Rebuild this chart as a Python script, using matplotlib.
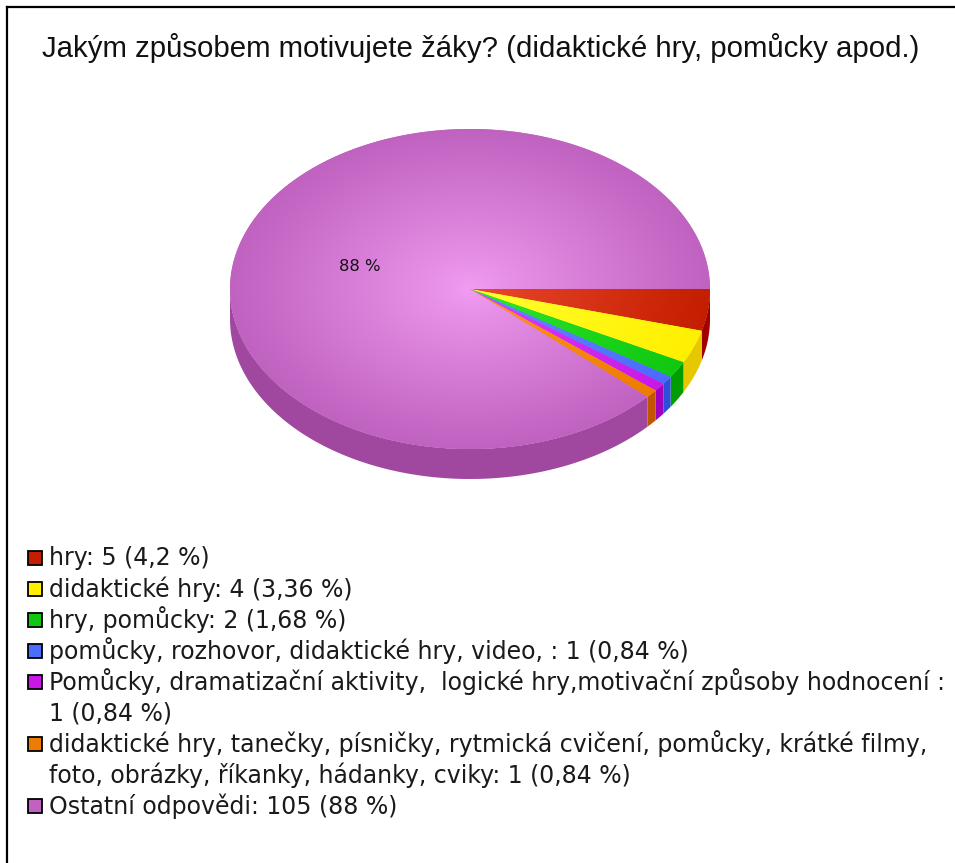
import numpy as np
import matplotlib
matplotlib.use("Agg")
import matplotlib.pyplot as plt
from matplotlib.patches import Polygon, Rectangle
from matplotlib.lines import Line2D

# ---------------- data ----------------
title = "Jakým způsobem motivujete žáky? (didaktické hry, pomůcky apod.)"
categories = [
    "hry",
    "didaktické hry",
    "hry, pomůcky",
    "pomůcky, rozhovor, didaktické hry, video, ",
    "Pomůcky, dramatizační aktivity,  logické hry,motivační způsoby hodnocení ",
    "didaktické hry, tanečky, písničky, rytmická cvičení, pomůcky, krátké filmy,\nfoto, obrázky, říkanky, hádanky, cviky",
    "Ostatní odpovědi",
]
count_sep = [" ", " ", " ", " ", "\n", " ", " "]
counts = [5, 4, 2, 1, 1, 1, 105]
pct_labels = ["4,2", "3,36", "1,68", "0,84", "0,84", "0,84", "88"]
slice_label = "88 %"

base_colors = ["#C41E00", "#FFF000", "#10C810", "#4A6CFF", "#C818E8", "#EE7C00", "#C062C0"]
light_colors = ["#EC4A2E", "#FFFF30", "#30E830", "#6A8AFF", "#E040FF", "#FF9A20", "#F29CF2"]
side_colors = ["#A00000", "#E6C800", "#009E00", "#2E50D8", "#A000BE", "#C25600", "#A048A0"]

# ---------------- figure ----------------
W, H = 955, 863
fig = plt.figure(figsize=(W / 100, H / 100), dpi=100)
ax = fig.add_axes([0, 0, 1, 1])
ax.set_xlim(0, W)
ax.set_ylim(H, 0)
ax.axis("off")

title_font = "Liberation Sans"
legend_font = "DejaVu Sans"

# frame (cropped box: left & top edges)
ax.add_line(Line2D([7, 7], [H, 7.5], color="black", lw=1.6))
ax.add_line(Line2D([7, W], [7.5, 7.5], color="black", lw=1.6))

ax.text(481, 48, title, ha="center", va="center", fontsize=21.2, family=title_font, color="#111111")

# ---------------- 3D-ish pie ----------------
cx, cy, rx, ry, depth = 470, 289, 240, 160, 30
vals = np.array(counts, dtype=float)
bounds = np.concatenate([[0], np.cumsum(vals) / vals.sum() * 2 * np.pi])

# side walls (visible half: angles 0..pi, downward in screen)
for i in range(len(vals)):
    a, b = bounds[i], bounds[i + 1]
    lo, hi = max(a, 0), min(b, np.pi)
    if hi <= lo:
        continue
    t = np.linspace(lo, hi, 200)
    xs = cx + rx * np.cos(t)
    ys = cy + ry * np.sin(t)
    poly = np.column_stack([np.concatenate([xs, xs[::-1]]),
                            np.concatenate([ys, ys[::-1] + depth])])
    ax.add_patch(Polygon(poly, closed=True, facecolor=side_colors[i], edgecolor="none"))

# top faces with radial gradient
gx = np.arange(cx - rx, cx + rx + 1)
gy = np.arange(cy - ry, cy + ry + 1)
GX, GY = np.meshgrid(gx, gy)
R = np.clip(np.sqrt(((GX - cx) / rx) ** 2 + ((GY - cy) / ry) ** 2), 0, 1)
for i in range(len(vals)):
    a, b = bounds[i], bounds[i + 1]
    t = np.linspace(a, b, max(int((b - a) * 120), 4))
    pts = np.column_stack([np.concatenate([[cx], cx + rx * np.cos(t)]),
                           np.concatenate([[cy], cy + ry * np.sin(t)])])
    wedge = Polygon(pts, closed=True, facecolor=base_colors[i], edgecolor="none")
    ax.add_patch(wedge)
    c0 = np.array(matplotlib.colors.to_rgb(light_colors[i]))
    c1 = np.array(matplotlib.colors.to_rgb(base_colors[i]))
    f = R[..., None] ** 0.9
    img = c0 * (1 - f) + c1 * f
    im = ax.imshow(img, extent=(gx[0], gx[-1], gy[-1], gy[0]), interpolation="bilinear", zorder=2)
    im.set_clip_path(wedge)

ax.text(360, 266, slice_label, ha="center", va="center", fontsize=11.8, family=legend_font,
        color="#111111", zorder=3)

# ---------------- legend ----------------
fs = 17.0
y = 558
line_h = 31
for i, cat in enumerate(categories):
    label = f"{cat}:{count_sep[i]}{counts[i]} ({pct_labels[i]} %)"
    ax.add_patch(Rectangle((28, y - 7.5), 14, 14, facecolor=base_colors[i], edgecolor="black",
                           lw=1.3, zorder=3))
    for k, ln in enumerate(label.split("\n")):
        ax.text(49, y, ln if k == 0 else ln.lstrip(), ha="left", va="center",
                fontsize=fs, family=legend_font, color="#1a1a1a")
        y += line_h

fig.savefig("out.png", dpi=100)
